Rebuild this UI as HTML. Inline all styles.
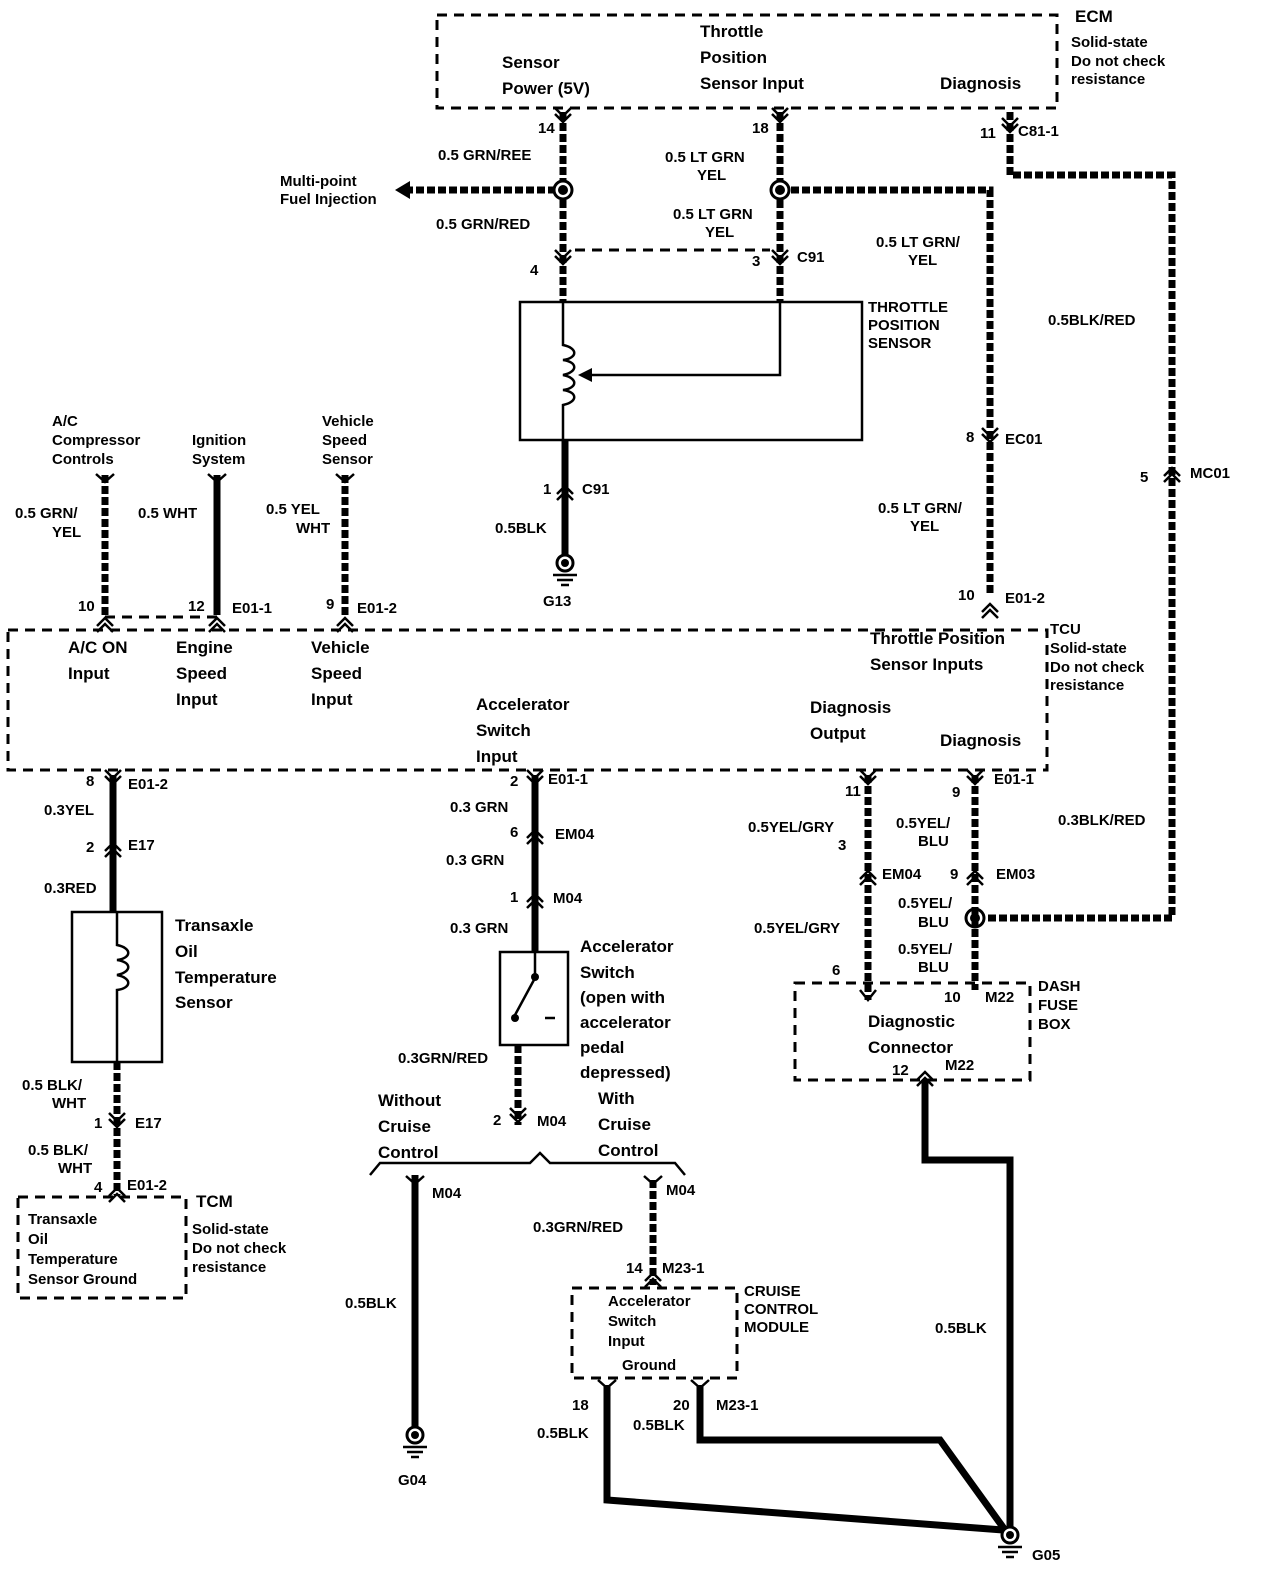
<!DOCTYPE html>
<html><head><meta charset="utf-8"><style>
body{margin:0;background:#fff}
svg{display:block}
text{font-family:"Liberation Sans",sans-serif;font-weight:bold;fill:#000;font-size:17px}
.s{font-size:15px}
.d{fill:none;stroke:#000;stroke-width:3;stroke-dasharray:10 7}
.st{fill:none;stroke:#000;stroke-width:7;stroke-dasharray:8 3}
.so{fill:none;stroke:#000;stroke-width:7}
.th{fill:none;stroke:#000;stroke-width:2.5}
.ch{fill:none;stroke:#000;stroke-width:2.5}
</style></head><body>
<svg width="1264" height="1578" viewBox="0 0 1264 1578" xmlns="http://www.w3.org/2000/svg">
<defs>
<g id="cu"><path class="ch" d="M-8 6 L0 -2 L8 6 M-8 12 L0 4 L8 12"/></g>
<g id="cd"><path class="ch" d="M-8 -6 L0 2 L8 -6 M-8 -12 L0 -4 L8 -12"/></g>
<g id="gnd"><circle r="8" fill="#fff" stroke="#000" stroke-width="3"/><circle r="4"/><path d="M-12 12 H12 M-8 17 H8 M-4 22 H4" stroke="#000" stroke-width="2.5"/></g>
<g id="spl"><circle r="9" fill="#fff" stroke="#000" stroke-width="3"/><circle r="5"/></g>
</defs>
<!-- ECM box -->
<rect x="437" y="15" width="620" height="93" class="d"/>
<text x="1075" y="22" font-size="20">ECM</text>
<text x="1071" y="47" class="s">Solid-state</text>
<text x="1071" y="66" class="s">Do not check</text>
<text x="1071" y="84" class="s">resistance</text>
<text x="502" y="68" font-size="19">Sensor</text>
<text x="502" y="94" font-size="19">Power (5V)</text>
<text x="700" y="37" font-size="19">Throttle</text>
<text x="700" y="63" font-size="19">Position</text>
<text x="700" y="89" font-size="19">Sensor Input</text>
<text x="940" y="89" font-size="19">Diagnosis</text>
<!-- wires from ECM -->
<path class="st" d="M563 112 V302"/>
<path class="st" d="M780 112 V302"/>
<path class="st" d="M405 190 H563"/>
<path d="M395 190 L410 181 L410 199 Z"/>
<path class="st" d="M780 190 H990 V595"/>
<path class="st" d="M1010 112 V175 H1172 V918 H975"/>
<path class="d" d="M575 250 H770" stroke-width="2.5"/>
<use href="#spl" x="563" y="190"/><use href="#spl" x="780" y="190"/><use href="#spl" x="975" y="918"/>
<use href="#cd" x="563" y="120"/><use href="#cd" x="780" y="120"/><use href="#cd" x="1010" y="130"/>
<use href="#cd" x="563" y="262"/><use href="#cd" x="780" y="262"/>
<text x="538" y="133" class="s">14</text><text x="752" y="133" class="s">18</text>
<text x="980" y="138" class="s">11</text><text x="1018" y="136" class="s">C81-1</text>
<text x="438" y="160" class="s">0.5 GRN/REE</text>
<text x="280" y="186" class="s">Multi-point</text><text x="280" y="204" class="s">Fuel Injection</text>
<text x="436" y="229" class="s">0.5 GRN/RED</text>
<text x="665" y="162" class="s">0.5 LT GRN</text><text x="697" y="180" class="s">YEL</text>
<text x="673" y="219" class="s">0.5 LT GRN</text><text x="705" y="237" class="s">YEL</text>
<text x="530" y="275" class="s">4</text><text x="752" y="266" class="s">3</text><text x="797" y="262" class="s">C91</text>
<text x="876" y="247" class="s">0.5 LT GRN/</text><text x="908" y="265" class="s">YEL</text>
<text x="1048" y="325" class="s">0.5BLK/RED</text>
<!-- TPS -->
<rect x="520" y="302" width="342" height="138" class="th"/>
<path d="M563 302 V345 C578 348 578 358 563 360 C578 362 578 372 563 375 C578 378 578 388 563 390 C578 392 578 402 563 405 V440" class="th"/>
<path d="M780 302 V375 H588" class="th"/><path d="M578 375 L592 368 L592 382 Z"/>
<text x="868" y="312" class="s">THROTTLE</text><text x="868" y="330" class="s">POSITION</text><text x="868" y="348" class="s">SENSOR</text>
<path class="so" d="M565 440 V557"/>
<use href="#cu" x="565" y="488"/>
<text x="543" y="494" class="s">1</text><text x="582" y="494" class="s">C91</text>
<text x="495" y="533" class="s">0.5BLK</text>
<use href="#gnd" x="565" y="563"/><text x="543" y="606" class="s">G13</text>
<use href="#cd" x="990" y="440"/><text x="966" y="442" class="s">8</text><text x="1005" y="444" class="s">EC01</text>
<text x="878" y="513" class="s">0.5 LT GRN/</text><text x="910" y="531" class="s">YEL</text>
<use href="#cu" x="990" y="606"/><text x="958" y="600" class="s">10</text><text x="1005" y="603" class="s">E01-2</text>
<use href="#cu" x="1172" y="470"/><text x="1140" y="482" class="s">5</text><text x="1190" y="478" class="s">MC01</text>
<!-- upper-left inputs -->
<path class="st" d="M105 475 V615"/><path class="so" d="M217 475 V615"/><path class="st" d="M345 475 V615"/>
<path d="M96 474 L105 482 L114 474 M208 474 L217 482 L226 474 M336 474 L345 482 L354 474" class="ch"/>
<path class="d" d="M105 617 H217" stroke-width="2.5"/>
<text x="52" y="426" class="s">A/C</text><text x="52" y="445" class="s">Compressor</text><text x="52" y="464" class="s">Controls</text>
<text x="192" y="445" class="s">Ignition</text><text x="192" y="464" class="s">System</text>
<text x="322" y="426" class="s">Vehicle</text><text x="322" y="445" class="s">Speed</text><text x="322" y="464" class="s">Sensor</text>
<text x="15" y="518" class="s">0.5 GRN/</text><text x="52" y="537" class="s">YEL</text>
<text x="138" y="518" class="s">0.5 WHT</text>
<text x="266" y="514" class="s">0.5 YEL</text><text x="296" y="533" class="s">WHT</text>
<use href="#cu" x="105" y="620"/><use href="#cu" x="217" y="620"/><use href="#cu" x="345" y="620"/>
<text x="78" y="611" class="s">10</text><text x="188" y="611" class="s">12</text><text x="232" y="613" class="s">E01-1</text>
<text x="326" y="609" class="s">9</text><text x="357" y="613" class="s">E01-2</text>
<!-- TCU -->
<rect x="8" y="630" width="1039" height="140" class="d"/>
<text x="1050" y="634" class="s">TCU</text><text x="1050" y="653" class="s">Solid-state</text><text x="1050" y="672" class="s">Do not check</text><text x="1050" y="690" class="s">resistance</text>
<text x="68" y="653" font-size="19">A/C ON</text><text x="68" y="679" font-size="19">Input</text>
<text x="176" y="653" font-size="19">Engine</text><text x="176" y="679" font-size="19">Speed</text><text x="176" y="705" font-size="19">Input</text>
<text x="311" y="653" font-size="19">Vehicle</text><text x="311" y="679" font-size="19">Speed</text><text x="311" y="705" font-size="19">Input</text>
<text x="870" y="644" font-size="19">Throttle Position</text><text x="870" y="670" font-size="19">Sensor Inputs</text>
<text x="476" y="710" font-size="19">Accelerator</text><text x="476" y="736" font-size="19">Switch</text><text x="476" y="762" font-size="19">Input</text>
<text x="810" y="713" font-size="19">Diagnosis</text><text x="810" y="739" font-size="19">Output</text>
<text x="940" y="746" font-size="19">Diagnosis</text>
<!-- left lower -->
<path class="so" d="M113 775 V912"/>
<use href="#cd" x="113" y="782"/><use href="#cu" x="113" y="845"/>
<text x="86" y="786" class="s">8</text><text x="128" y="789" class="s">E01-2</text>
<text x="44" y="815" class="s">0.3YEL</text>
<text x="86" y="852" class="s">2</text><text x="128" y="850" class="s">E17</text>
<text x="44" y="893" class="s">0.3RED</text>
<rect x="72" y="912" width="90" height="150" class="th"/>
<path d="M117 912 V945 C132 948 132 958 117 960 C132 962 132 972 117 975 C132 978 132 988 117 990 V1062" class="th"/>
<text x="175" y="931" font-size="19">Transaxle</text><text x="175" y="957" font-size="19">Oil</text><text x="175" y="983" font-size="19">Temperature</text><text x="175" y="1008" font-size="19">Sensor</text>
<path class="st" d="M117 1062 V1195"/>
<use href="#cd" x="117" y="1125"/><use href="#cu" x="117" y="1190"/>
<text x="22" y="1090" class="s">0.5 BLK/</text><text x="52" y="1108" class="s">WHT</text>
<text x="94" y="1128" class="s">1</text><text x="135" y="1128" class="s">E17</text>
<text x="28" y="1155" class="s">0.5 BLK/</text><text x="58" y="1173" class="s">WHT</text>
<text x="94" y="1192" class="s">4</text><text x="127" y="1190" class="s">E01-2</text>
<rect x="18" y="1197" width="168" height="101" class="d"/>
<text x="196" y="1207" font-size="20">TCM</text>
<text x="192" y="1234" class="s">Solid-state</text><text x="192" y="1253" class="s">Do not check</text><text x="192" y="1272" class="s">resistance</text>
<text x="28" y="1224" class="s">Transaxle</text><text x="28" y="1244" class="s">Oil</text><text x="28" y="1264" class="s">Temperature</text><text x="28" y="1284" class="s">Sensor Ground</text>
<!-- accelerator switch -->
<path class="so" d="M535 775 V952"/>
<use href="#cd" x="535" y="782"/><use href="#cu" x="535" y="832"/><use href="#cu" x="535" y="896"/>
<text x="510" y="786" class="s">2</text><text x="548" y="784" class="s">E01-1</text>
<text x="450" y="812" class="s">0.3 GRN</text>
<text x="510" y="837" class="s">6</text><text x="555" y="839" class="s">EM04</text>
<text x="446" y="865" class="s">0.3 GRN</text>
<text x="510" y="902" class="s">1</text><text x="553" y="903" class="s">M04</text>
<text x="450" y="933" class="s">0.3 GRN</text>
<rect x="500" y="952" width="68" height="93" class="th"/>
<path d="M535 952 V975 M535 978 L515 1015 M545 1018 H555" class="th"/><circle cx="535" cy="977" r="4"/><circle cx="515" cy="1018" r="4"/>
<text x="580" y="952" font-size="19">Accelerator</text><text x="580" y="978" font-size="19">Switch</text><text x="580" y="1003" font-size="19">(open with</text><text x="580" y="1028" font-size="19">accelerator</text><text x="580" y="1053" font-size="19">pedal</text><text x="580" y="1078" font-size="19">depressed)</text>
<path class="st" d="M518 1045 V1125"/>
<use href="#cd" x="518" y="1120"/>
<text x="398" y="1063" class="s">0.3GRN/RED</text>
<text x="493" y="1125" class="s">2</text><text x="537" y="1126" class="s">M04</text>
<text x="378" y="1106" font-size="19">Without</text><text x="378" y="1132" font-size="19">Cruise</text><text x="378" y="1158" font-size="19">Control</text>
<text x="598" y="1104" font-size="19">With</text><text x="598" y="1130" font-size="19">Cruise</text><text x="598" y="1156" font-size="19">Control</text>
<path class="th" d="M370 1175 L380 1163 H530 L540 1153 L550 1163 H675 L685 1175"/>
<path class="so" d="M415 1175 V1428"/>
<path d="M406 1176 L415 1184 L424 1176 M644 1176 L653 1184 L662 1176" class="ch"/>
<text x="432" y="1198" class="s">M04</text><text x="666" y="1195" class="s">M04</text>
<text x="345" y="1308" class="s">0.5BLK</text>
<use href="#gnd" x="415" y="1435"/><text x="398" y="1485" class="s">G04</text>
<path class="st" d="M653 1180 V1285"/>
<text x="533" y="1232" class="s">0.3GRN/RED</text>
<use href="#cu" x="653" y="1275"/><text x="626" y="1273" class="s">14</text><text x="662" y="1273" class="s">M23-1</text>
<rect x="572" y="1288" width="165" height="90" class="d"/>
<text x="608" y="1306" class="s">Accelerator</text><text x="608" y="1326" class="s">Switch</text><text x="608" y="1346" class="s">Input</text><text x="622" y="1370" class="s">Ground</text>
<text x="744" y="1296" class="s">CRUISE</text><text x="744" y="1314" class="s">CONTROL</text><text x="744" y="1332" class="s">MODULE</text>
<path class="so" d="M607 1385 V1500 L1003 1530"/>
<path class="so" d="M700 1385 V1440 H940 L1005 1530"/>
<path d="M598 1380 L607 1388 L616 1380 M691 1380 L700 1388 L709 1380" class="ch"/>
<text x="572" y="1410" class="s">18</text><text x="673" y="1410" class="s">20</text><text x="716" y="1410" class="s">M23-1</text>
<text x="537" y="1438" class="s">0.5BLK</text><text x="633" y="1430" class="s">0.5BLK</text>
<!-- diagnosis -->
<path class="st" d="M868 775 V1000"/><path class="st" d="M975 775 V990"/>
<use href="#cd" x="868" y="782"/><use href="#cd" x="975" y="782"/>
<use href="#cu" x="868" y="873"/><use href="#cu" x="975" y="873"/>
<path d="M860 990 L868 1000 L876 990" class="ch"/>
<text x="845" y="796" class="s">11</text><text x="952" y="797" class="s">9</text><text x="994" y="784" class="s">E01-1</text>
<text x="748" y="832" class="s">0.5YEL/GRY</text><text x="838" y="850" class="s">3</text>
<text x="896" y="828" class="s">0.5YEL/</text><text x="918" y="846" class="s">BLU</text>
<text x="1058" y="825" class="s">0.3BLK/RED</text>
<text x="882" y="879" class="s">EM04</text><text x="950" y="879" class="s">9</text><text x="996" y="879" class="s">EM03</text>
<text x="898" y="908" class="s">0.5YEL/</text><text x="918" y="927" class="s">BLU</text>
<text x="754" y="933" class="s">0.5YEL/GRY</text>
<text x="898" y="954" class="s">0.5YEL/</text><text x="918" y="972" class="s">BLU</text>
<text x="832" y="975" class="s">6</text><text x="944" y="1002" class="s">10</text><text x="985" y="1002" class="s">M22</text>
<rect x="795" y="983" width="235" height="97" class="d"/>
<text x="1038" y="991" class="s">DASH</text><text x="1038" y="1010" class="s">FUSE</text><text x="1038" y="1029" class="s">BOX</text>
<text x="868" y="1027" font-size="19">Diagnostic</text><text x="868" y="1053" font-size="19">Connector</text>
<use href="#cu" x="925" y="1074"/><text x="892" y="1075" class="s">12</text><text x="945" y="1070" class="s">M22</text>
<path class="so" d="M925 1080 V1160 H1010 V1528"/>
<text x="935" y="1333" class="s">0.5BLK</text>
<use href="#gnd" x="1010" y="1535"/><text x="1032" y="1560" class="s">G05</text>
</svg>
</body></html>
